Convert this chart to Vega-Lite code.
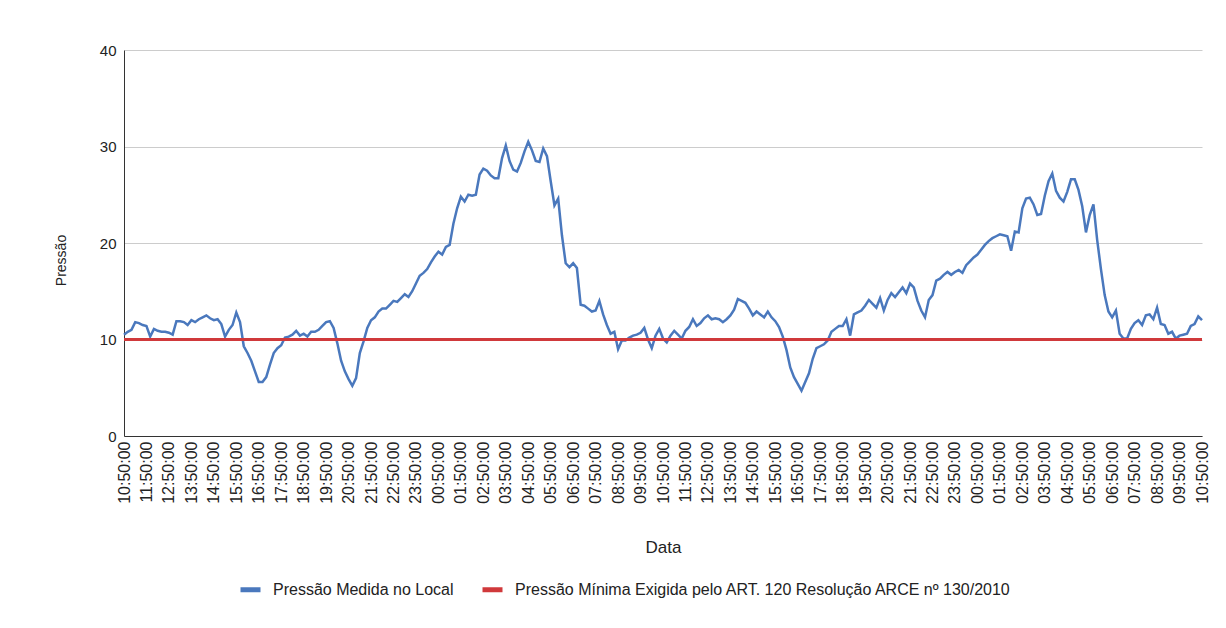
{
"$schema": "https://vega.github.io/schema/vega-lite/v6.json",
"width": 1078, "height": 386,
"autosize": "none",
"padding": {"left": 124, "top": 50, "right": 24, "bottom": 192},
"background": "white",
"config": {"font": "Liberation Sans", "view": {"stroke": null}},
"data": {"values": [
{"t":"2024-01-01T10:50:00","p":10.5},{"t":"2024-01-01T11:00:00","p":10.8},{"t":"2024-01-01T11:10:00","p":11.0},{"t":"2024-01-01T11:20:00","p":11.8},{"t":"2024-01-01T11:30:00","p":11.7},{"t":"2024-01-01T11:40:00","p":11.5},
{"t":"2024-01-01T11:50:00","p":11.4},{"t":"2024-01-01T12:00:00","p":10.3},{"t":"2024-01-01T12:10:00","p":11.1},{"t":"2024-01-01T12:20:00","p":10.9},{"t":"2024-01-01T12:30:00","p":10.8},{"t":"2024-01-01T12:40:00","p":10.8},
{"t":"2024-01-01T12:50:00","p":10.7},{"t":"2024-01-01T13:00:00","p":10.5},{"t":"2024-01-01T13:10:00","p":11.9},{"t":"2024-01-01T13:20:00","p":11.9},{"t":"2024-01-01T13:30:00","p":11.8},{"t":"2024-01-01T13:40:00","p":11.5},
{"t":"2024-01-01T13:50:00","p":12.0},{"t":"2024-01-01T14:00:00","p":11.8},{"t":"2024-01-01T14:10:00","p":12.1},{"t":"2024-01-01T14:20:00","p":12.3},{"t":"2024-01-01T14:30:00","p":12.5},{"t":"2024-01-01T14:40:00","p":12.2},
{"t":"2024-01-01T14:50:00","p":12.0},{"t":"2024-01-01T15:00:00","p":12.1},{"t":"2024-01-01T15:10:00","p":11.6},{"t":"2024-01-01T15:20:00","p":10.3},{"t":"2024-01-01T15:30:00","p":11.0},{"t":"2024-01-01T15:40:00","p":11.5},
{"t":"2024-01-01T15:50:00","p":12.8},{"t":"2024-01-01T16:00:00","p":11.8},{"t":"2024-01-01T16:10:00","p":9.3},{"t":"2024-01-01T16:20:00","p":8.6},{"t":"2024-01-01T16:30:00","p":7.8},{"t":"2024-01-01T16:40:00","p":6.7},
{"t":"2024-01-01T16:50:00","p":5.6},{"t":"2024-01-01T17:00:00","p":5.6},{"t":"2024-01-01T17:10:00","p":6.1},{"t":"2024-01-01T17:20:00","p":7.4},{"t":"2024-01-01T17:30:00","p":8.6},{"t":"2024-01-01T17:40:00","p":9.1},
{"t":"2024-01-01T17:50:00","p":9.4},{"t":"2024-01-01T18:00:00","p":10.2},{"t":"2024-01-01T18:10:00","p":10.3},{"t":"2024-01-01T18:20:00","p":10.5},{"t":"2024-01-01T18:30:00","p":10.9},{"t":"2024-01-01T18:40:00","p":10.4},
{"t":"2024-01-01T18:50:00","p":10.6},{"t":"2024-01-01T19:00:00","p":10.3},{"t":"2024-01-01T19:10:00","p":10.8},{"t":"2024-01-01T19:20:00","p":10.8},{"t":"2024-01-01T19:30:00","p":11.0},{"t":"2024-01-01T19:40:00","p":11.4},
{"t":"2024-01-01T19:50:00","p":11.8},{"t":"2024-01-01T20:00:00","p":11.9},{"t":"2024-01-01T20:10:00","p":11.2},{"t":"2024-01-01T20:20:00","p":9.6},{"t":"2024-01-01T20:30:00","p":7.8},{"t":"2024-01-01T20:40:00","p":6.7},
{"t":"2024-01-01T20:50:00","p":5.9},{"t":"2024-01-01T21:00:00","p":5.2},{"t":"2024-01-01T21:10:00","p":6.0},{"t":"2024-01-01T21:20:00","p":8.6},{"t":"2024-01-01T21:30:00","p":9.8},{"t":"2024-01-01T21:40:00","p":11.2},
{"t":"2024-01-01T21:50:00","p":12.0},{"t":"2024-01-01T22:00:00","p":12.3},{"t":"2024-01-01T22:10:00","p":12.9},{"t":"2024-01-01T22:20:00","p":13.2},{"t":"2024-01-01T22:30:00","p":13.2},{"t":"2024-01-01T22:40:00","p":13.6},
{"t":"2024-01-01T22:50:00","p":14.0},{"t":"2024-01-01T23:00:00","p":13.9},{"t":"2024-01-01T23:10:00","p":14.3},{"t":"2024-01-01T23:20:00","p":14.7},{"t":"2024-01-01T23:30:00","p":14.4},{"t":"2024-01-01T23:40:00","p":15.0},
{"t":"2024-01-01T23:50:00","p":15.8},{"t":"2024-01-02T00:00:00","p":16.6},{"t":"2024-01-02T00:10:00","p":16.9},{"t":"2024-01-02T00:20:00","p":17.3},{"t":"2024-01-02T00:30:00","p":18.0},{"t":"2024-01-02T00:40:00","p":18.6},
{"t":"2024-01-02T00:50:00","p":19.1},{"t":"2024-01-02T01:00:00","p":18.8},{"t":"2024-01-02T01:10:00","p":19.6},{"t":"2024-01-02T01:20:00","p":19.8},{"t":"2024-01-02T01:30:00","p":22.0},{"t":"2024-01-02T01:40:00","p":23.6},
{"t":"2024-01-02T01:50:00","p":24.8},{"t":"2024-01-02T02:00:00","p":24.3},{"t":"2024-01-02T02:10:00","p":25.0},{"t":"2024-01-02T02:20:00","p":24.9},{"t":"2024-01-02T02:30:00","p":25.0},{"t":"2024-01-02T02:40:00","p":27.1},
{"t":"2024-01-02T02:50:00","p":27.7},{"t":"2024-01-02T03:00:00","p":27.5},{"t":"2024-01-02T03:10:00","p":27.0},{"t":"2024-01-02T03:20:00","p":26.7},{"t":"2024-01-02T03:30:00","p":26.7},{"t":"2024-01-02T03:40:00","p":28.8},
{"t":"2024-01-02T03:50:00","p":30.1},{"t":"2024-01-02T04:00:00","p":28.5},{"t":"2024-01-02T04:10:00","p":27.6},{"t":"2024-01-02T04:20:00","p":27.4},{"t":"2024-01-02T04:30:00","p":28.3},{"t":"2024-01-02T04:40:00","p":29.5},
{"t":"2024-01-02T04:50:00","p":30.5},{"t":"2024-01-02T05:00:00","p":29.6},{"t":"2024-01-02T05:10:00","p":28.5},{"t":"2024-01-02T05:20:00","p":28.4},{"t":"2024-01-02T05:30:00","p":29.8},{"t":"2024-01-02T05:40:00","p":29.0},
{"t":"2024-01-02T05:50:00","p":26.4},{"t":"2024-01-02T06:00:00","p":23.9},{"t":"2024-01-02T06:10:00","p":24.6},{"t":"2024-01-02T06:20:00","p":20.8},{"t":"2024-01-02T06:30:00","p":17.9},{"t":"2024-01-02T06:40:00","p":17.5},
{"t":"2024-01-02T06:50:00","p":17.9},{"t":"2024-01-02T07:00:00","p":17.4},{"t":"2024-01-02T07:10:00","p":13.6},{"t":"2024-01-02T07:20:00","p":13.5},{"t":"2024-01-02T07:30:00","p":13.2},{"t":"2024-01-02T07:40:00","p":12.9},
{"t":"2024-01-02T07:50:00","p":13.0},{"t":"2024-01-02T08:00:00","p":14.0},{"t":"2024-01-02T08:10:00","p":12.6},{"t":"2024-01-02T08:20:00","p":11.5},{"t":"2024-01-02T08:30:00","p":10.6},{"t":"2024-01-02T08:40:00","p":10.8},
{"t":"2024-01-02T08:50:00","p":9.0},{"t":"2024-01-02T09:00:00","p":9.9},{"t":"2024-01-02T09:10:00","p":9.9},{"t":"2024-01-02T09:20:00","p":10.2},{"t":"2024-01-02T09:30:00","p":10.4},{"t":"2024-01-02T09:40:00","p":10.5},
{"t":"2024-01-02T09:50:00","p":10.7},{"t":"2024-01-02T10:00:00","p":11.2},{"t":"2024-01-02T10:10:00","p":10.0},{"t":"2024-01-02T10:20:00","p":9.1},{"t":"2024-01-02T10:30:00","p":10.4},{"t":"2024-01-02T10:40:00","p":11.1},
{"t":"2024-01-02T10:50:00","p":10.1},{"t":"2024-01-02T11:00:00","p":9.7},{"t":"2024-01-02T11:10:00","p":10.4},{"t":"2024-01-02T11:20:00","p":10.9},{"t":"2024-01-02T11:30:00","p":10.5},{"t":"2024-01-02T11:40:00","p":10.1},
{"t":"2024-01-02T11:50:00","p":10.9},{"t":"2024-01-02T12:00:00","p":11.3},{"t":"2024-01-02T12:10:00","p":12.1},{"t":"2024-01-02T12:20:00","p":11.4},{"t":"2024-01-02T12:30:00","p":11.7},{"t":"2024-01-02T12:40:00","p":12.2},
{"t":"2024-01-02T12:50:00","p":12.5},{"t":"2024-01-02T13:00:00","p":12.1},{"t":"2024-01-02T13:10:00","p":12.2},{"t":"2024-01-02T13:20:00","p":12.1},{"t":"2024-01-02T13:30:00","p":11.8},{"t":"2024-01-02T13:40:00","p":12.1},
{"t":"2024-01-02T13:50:00","p":12.5},{"t":"2024-01-02T14:00:00","p":13.1},{"t":"2024-01-02T14:10:00","p":14.2},{"t":"2024-01-02T14:20:00","p":14.0},{"t":"2024-01-02T14:30:00","p":13.8},{"t":"2024-01-02T14:40:00","p":13.2},
{"t":"2024-01-02T14:50:00","p":12.5},{"t":"2024-01-02T15:00:00","p":12.9},{"t":"2024-01-02T15:10:00","p":12.6},{"t":"2024-01-02T15:20:00","p":12.3},{"t":"2024-01-02T15:30:00","p":12.9},{"t":"2024-01-02T15:40:00","p":12.3},
{"t":"2024-01-02T15:50:00","p":11.9},{"t":"2024-01-02T16:00:00","p":11.3},{"t":"2024-01-02T16:10:00","p":10.3},{"t":"2024-01-02T16:20:00","p":8.9},{"t":"2024-01-02T16:30:00","p":7.1},{"t":"2024-01-02T16:40:00","p":6.1},
{"t":"2024-01-02T16:50:00","p":5.4},{"t":"2024-01-02T17:00:00","p":4.7},{"t":"2024-01-02T17:10:00","p":5.6},{"t":"2024-01-02T17:20:00","p":6.5},{"t":"2024-01-02T17:30:00","p":8.0},{"t":"2024-01-02T17:40:00","p":9.1},
{"t":"2024-01-02T17:50:00","p":9.3},{"t":"2024-01-02T18:00:00","p":9.5},{"t":"2024-01-02T18:10:00","p":9.9},{"t":"2024-01-02T18:20:00","p":10.8},{"t":"2024-01-02T18:30:00","p":11.1},{"t":"2024-01-02T18:40:00","p":11.4},
{"t":"2024-01-02T18:50:00","p":11.4},{"t":"2024-01-02T19:00:00","p":12.1},{"t":"2024-01-02T19:10:00","p":10.4},{"t":"2024-01-02T19:20:00","p":12.6},{"t":"2024-01-02T19:30:00","p":12.8},{"t":"2024-01-02T19:40:00","p":13.0},
{"t":"2024-01-02T19:50:00","p":13.5},{"t":"2024-01-02T20:00:00","p":14.1},{"t":"2024-01-02T20:10:00","p":13.7},{"t":"2024-01-02T20:20:00","p":13.3},{"t":"2024-01-02T20:30:00","p":14.3},{"t":"2024-01-02T20:40:00","p":13.0},
{"t":"2024-01-02T20:50:00","p":14.1},{"t":"2024-01-02T21:00:00","p":14.8},{"t":"2024-01-02T21:10:00","p":14.4},{"t":"2024-01-02T21:20:00","p":14.9},{"t":"2024-01-02T21:30:00","p":15.4},{"t":"2024-01-02T21:40:00","p":14.8},
{"t":"2024-01-02T21:50:00","p":15.8},{"t":"2024-01-02T22:00:00","p":15.4},{"t":"2024-01-02T22:10:00","p":14.0},{"t":"2024-01-02T22:20:00","p":13.0},{"t":"2024-01-02T22:30:00","p":12.3},{"t":"2024-01-02T22:40:00","p":14.1},
{"t":"2024-01-02T22:50:00","p":14.6},{"t":"2024-01-02T23:00:00","p":16.1},{"t":"2024-01-02T23:10:00","p":16.3},{"t":"2024-01-02T23:20:00","p":16.7},{"t":"2024-01-02T23:30:00","p":17.0},{"t":"2024-01-02T23:40:00","p":16.7},
{"t":"2024-01-02T23:50:00","p":17.0},{"t":"2024-01-03T00:00:00","p":17.2},{"t":"2024-01-03T00:10:00","p":16.9},{"t":"2024-01-03T00:20:00","p":17.7},{"t":"2024-01-03T00:30:00","p":18.1},{"t":"2024-01-03T00:40:00","p":18.5},
{"t":"2024-01-03T00:50:00","p":18.8},{"t":"2024-01-03T01:00:00","p":19.3},{"t":"2024-01-03T01:10:00","p":19.8},{"t":"2024-01-03T01:20:00","p":20.2},{"t":"2024-01-03T01:30:00","p":20.5},{"t":"2024-01-03T01:40:00","p":20.7},
{"t":"2024-01-03T01:50:00","p":20.9},{"t":"2024-01-03T02:00:00","p":20.8},{"t":"2024-01-03T02:10:00","p":20.7},{"t":"2024-01-03T02:20:00","p":19.2},{"t":"2024-01-03T02:30:00","p":21.2},{"t":"2024-01-03T02:40:00","p":21.1},
{"t":"2024-01-03T02:50:00","p":23.6},{"t":"2024-01-03T03:00:00","p":24.6},{"t":"2024-01-03T03:10:00","p":24.7},{"t":"2024-01-03T03:20:00","p":24.0},{"t":"2024-01-03T03:30:00","p":22.9},{"t":"2024-01-03T03:40:00","p":23.0},
{"t":"2024-01-03T03:50:00","p":24.9},{"t":"2024-01-03T04:00:00","p":26.4},{"t":"2024-01-03T04:10:00","p":27.2},{"t":"2024-01-03T04:20:00","p":25.4},{"t":"2024-01-03T04:30:00","p":24.7},{"t":"2024-01-03T04:40:00","p":24.3},
{"t":"2024-01-03T04:50:00","p":25.3},{"t":"2024-01-03T05:00:00","p":26.6},{"t":"2024-01-03T05:10:00","p":26.6},{"t":"2024-01-03T05:20:00","p":25.5},{"t":"2024-01-03T05:30:00","p":23.8},{"t":"2024-01-03T05:40:00","p":21.1},
{"t":"2024-01-03T05:50:00","p":22.9},{"t":"2024-01-03T06:00:00","p":24.0},{"t":"2024-01-03T06:10:00","p":20.3},{"t":"2024-01-03T06:20:00","p":17.3},{"t":"2024-01-03T06:30:00","p":14.6},{"t":"2024-01-03T06:40:00","p":12.9},
{"t":"2024-01-03T06:50:00","p":12.3},{"t":"2024-01-03T07:00:00","p":13.0},{"t":"2024-01-03T07:10:00","p":10.6},{"t":"2024-01-03T07:20:00","p":10.1},{"t":"2024-01-03T07:30:00","p":10.1},{"t":"2024-01-03T07:40:00","p":11.1},
{"t":"2024-01-03T07:50:00","p":11.7},{"t":"2024-01-03T08:00:00","p":12.0},{"t":"2024-01-03T08:10:00","p":11.5},{"t":"2024-01-03T08:20:00","p":12.5},{"t":"2024-01-03T08:30:00","p":12.6},{"t":"2024-01-03T08:40:00","p":12.1},
{"t":"2024-01-03T08:50:00","p":13.3},{"t":"2024-01-03T09:00:00","p":11.6},{"t":"2024-01-03T09:10:00","p":11.5},{"t":"2024-01-03T09:20:00","p":10.6},{"t":"2024-01-03T09:30:00","p":10.8},{"t":"2024-01-03T09:40:00","p":10.1},
{"t":"2024-01-03T09:50:00","p":10.4},{"t":"2024-01-03T10:00:00","p":10.5},{"t":"2024-01-03T10:10:00","p":10.6},{"t":"2024-01-03T10:20:00","p":11.4},{"t":"2024-01-03T10:30:00","p":11.6},{"t":"2024-01-03T10:40:00","p":12.4},
{"t":"2024-01-03T10:50:00","p":12.0}
]},
"encoding": {
  "x": {"field": "t", "type": "temporal", "title": "Data",
    "axis": {"format": "%H:%M:%S",
      "values": [
        {"year":2024,"month":1,"date":1,"hours":10,"minutes":50},{"year":2024,"month":1,"date":1,"hours":11,"minutes":50},{"year":2024,"month":1,"date":1,"hours":12,"minutes":50},{"year":2024,"month":1,"date":1,"hours":13,"minutes":50},
        {"year":2024,"month":1,"date":1,"hours":14,"minutes":50},{"year":2024,"month":1,"date":1,"hours":15,"minutes":50},{"year":2024,"month":1,"date":1,"hours":16,"minutes":50},{"year":2024,"month":1,"date":1,"hours":17,"minutes":50},
        {"year":2024,"month":1,"date":1,"hours":18,"minutes":50},{"year":2024,"month":1,"date":1,"hours":19,"minutes":50},{"year":2024,"month":1,"date":1,"hours":20,"minutes":50},{"year":2024,"month":1,"date":1,"hours":21,"minutes":50},
        {"year":2024,"month":1,"date":1,"hours":22,"minutes":50},{"year":2024,"month":1,"date":1,"hours":23,"minutes":50},
        {"year":2024,"month":1,"date":2,"hours":0,"minutes":50},{"year":2024,"month":1,"date":2,"hours":1,"minutes":50},{"year":2024,"month":1,"date":2,"hours":2,"minutes":50},{"year":2024,"month":1,"date":2,"hours":3,"minutes":50},
        {"year":2024,"month":1,"date":2,"hours":4,"minutes":50},{"year":2024,"month":1,"date":2,"hours":5,"minutes":50},{"year":2024,"month":1,"date":2,"hours":6,"minutes":50},{"year":2024,"month":1,"date":2,"hours":7,"minutes":50},
        {"year":2024,"month":1,"date":2,"hours":8,"minutes":50},{"year":2024,"month":1,"date":2,"hours":9,"minutes":50},{"year":2024,"month":1,"date":2,"hours":10,"minutes":50},{"year":2024,"month":1,"date":2,"hours":11,"minutes":50},
        {"year":2024,"month":1,"date":2,"hours":12,"minutes":50},{"year":2024,"month":1,"date":2,"hours":13,"minutes":50},{"year":2024,"month":1,"date":2,"hours":14,"minutes":50},{"year":2024,"month":1,"date":2,"hours":15,"minutes":50},
        {"year":2024,"month":1,"date":2,"hours":16,"minutes":50},{"year":2024,"month":1,"date":2,"hours":17,"minutes":50},{"year":2024,"month":1,"date":2,"hours":18,"minutes":50},{"year":2024,"month":1,"date":2,"hours":19,"minutes":50},
        {"year":2024,"month":1,"date":2,"hours":20,"minutes":50},{"year":2024,"month":1,"date":2,"hours":21,"minutes":50},{"year":2024,"month":1,"date":2,"hours":22,"minutes":50},{"year":2024,"month":1,"date":2,"hours":23,"minutes":50},
        {"year":2024,"month":1,"date":3,"hours":0,"minutes":50},{"year":2024,"month":1,"date":3,"hours":1,"minutes":50},{"year":2024,"month":1,"date":3,"hours":2,"minutes":50},{"year":2024,"month":1,"date":3,"hours":3,"minutes":50},
        {"year":2024,"month":1,"date":3,"hours":4,"minutes":50},{"year":2024,"month":1,"date":3,"hours":5,"minutes":50},{"year":2024,"month":1,"date":3,"hours":6,"minutes":50},{"year":2024,"month":1,"date":3,"hours":7,"minutes":50},
        {"year":2024,"month":1,"date":3,"hours":8,"minutes":50},{"year":2024,"month":1,"date":3,"hours":9,"minutes":50},{"year":2024,"month":1,"date":3,"hours":10,"minutes":50}
      ],
      "labelAngle": 270, "labelOverlap": false, "labelBound": false, "labelFlush": false,
      "ticks": false, "grid": false, "domainColor": "#333333",
      "labelFontSize": 16, "labelColor": "#222222", "labelPadding": 5,
      "titleFontSize": 17, "titleFontWeight": "normal", "titleColor": "#222222", "titlePadding": 36}}
},
"layer": [
  {"mark": {"type": "line", "strokeWidth": 2.5},
   "encoding": {
     "y": {"field": "p", "type": "quantitative", "title": "Pressão",
       "scale": {"domain": [0, 40]},
       "axis": {"values": [0, 10, 20, 30, 40], "grid": true, "gridColor": "#cccccc", "ticks": false,
         "domainColor": "#333333", "labelFontSize": 15, "labelColor": "#222222", "labelPadding": 8,
         "titleFontSize": 14, "titleFontWeight": "normal", "titleColor": "#222222", "titlePadding": 31, "titleY": 210}},
     "color": {"datum": "Pressão Medida no Local",
       "scale": {"domain": ["Pressão Medida no Local", "Pressão Mínima Exigida pelo ART. 120 Resolução ARCE nº 130/2010"],
                 "range": ["#4a78bd", "#d0393b"]},
       "legend": {"orient": "none", "legendX": 114, "legendY": 527, "direction": "horizontal", "title": null,
         "symbolType": "stroke", "symbolStrokeWidth": 5, "symbolSize": 400, "labelOffset": 10,
         "labelFontSize": 16, "labelColor": "#222222", "labelLimit": 0, "columnPadding": 18}}}},
  {"mark": {"type": "line", "strokeWidth": 3},
   "encoding": {
     "y": {"datum": 10},
     "color": {"datum": "Pressão Mínima Exigida pelo ART. 120 Resolução ARCE nº 130/2010"}}}
]
}
